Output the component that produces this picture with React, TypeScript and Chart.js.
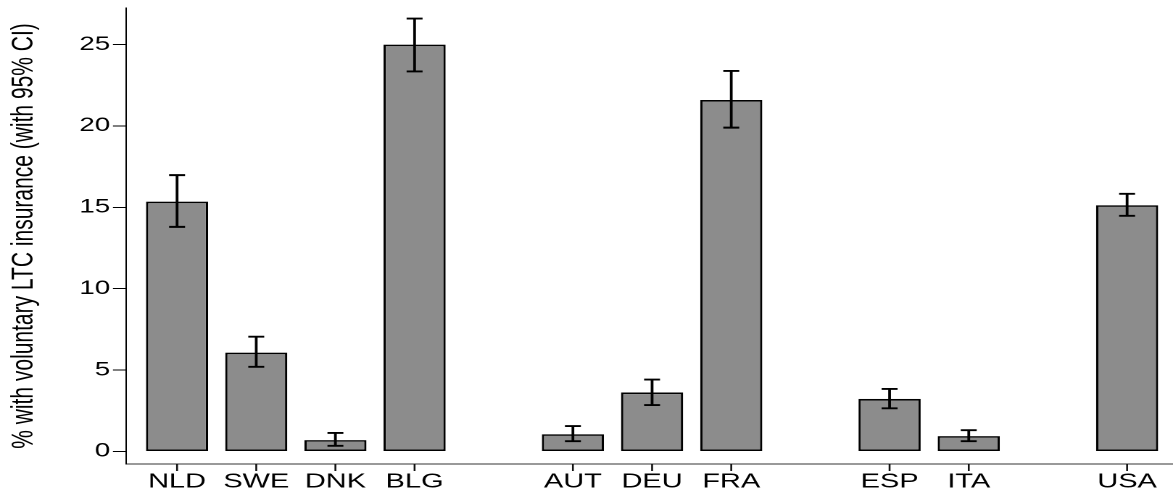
import React, { useEffect, useRef } from "react";
import { Chart, registerables } from "chart.js";

Chart.register(...registerables);

// ---- data ----
const groups: string[][] = [
  ["NLD", "SWE", "DNK", "BLG"],
  ["AUT", "DEU", "FRA"],
  ["ESP", "ITA"],
  ["USA"],
];
const countries: string[] = ["NLD", "SWE", "DNK", "BLG", "AUT", "DEU", "FRA", "ESP", "ITA", "USA"];
const shares: number[] = [15.35, 6.07, 0.7, 25.0, 1.06, 3.62, 21.6, 3.23, 0.94, 15.13];
const ciLow: number[] = [13.8, 5.2, 0.35, 23.35, 0.63, 2.85, 19.9, 2.65, 0.63, 14.48];
const ciHigh: number[] = [16.98, 7.05, 1.14, 26.6, 1.56, 4.42, 23.38, 3.84, 1.31, 15.83];
const yTicks: number[] = [0, 5, 10, 15, 20, 25];
const yTitle = "% with voluntary LTC insurance (with 95% CI)";

// slot index of each country: one empty slot between groups
const slotGap = 1;
const slots: number[] = (() => {
  const out: number[] = [];
  let s = 0;
  groups.forEach((g) => {
    g.forEach(() => out.push(s++));
    s += slotGap;
  });
  return out;
})();

// ---- layout / style ----
const PAGE_W = 1173;
const PAGE_H = 493;
const STRETCH = 1.45; // horizontal stretch of the original rendering
const CANVAS_W = Math.round(PAGE_W / STRETCH);
const FONT = "'Liberation Sans', Arial, Helvetica, sans-serif";
const X_TICK_LEN = 7;

const errorBarPlugin = {
  id: "errorBars",
  afterDatasetsDraw(chart: any) {
    const { ctx, scales } = chart;
    const x = scales.x;
    const y = scales.y;
    const cap = 5.5;
    ctx.save();
    ctx.strokeStyle = "#000";
    ctx.lineWidth = 1.9;
    ctx.lineCap = "butt";
    slots.forEach((s, i) => {
      const px = x.getPixelForValue(s);
      const yl = y.getPixelForValue(ciLow[i]);
      const yh = y.getPixelForValue(ciHigh[i]);
      ctx.beginPath();
      ctx.moveTo(px, yl);
      ctx.lineTo(px, yh);
      ctx.moveTo(px - cap, yl);
      ctx.lineTo(px + cap, yl);
      ctx.moveTo(px - cap, yh);
      ctx.lineTo(px + cap, yh);
      ctx.stroke();
    });
    ctx.restore();
  },
  afterDraw(chart: any) {
    // tick marks under each category label
    const { ctx, scales } = chart;
    const x = scales.x;
    ctx.save();
    ctx.strokeStyle = "#111";
    ctx.lineWidth = 1.3;
    slots.forEach((s) => {
      const px = x.getPixelForValue(s);
      ctx.beginPath();
      ctx.moveTo(px, x.top);
      ctx.lineTo(px, x.top + X_TICK_LEN);
      ctx.stroke();
    });
    ctx.restore();
  },
};

export default function App() {
  const ref = useRef<HTMLCanvasElement | null>(null);

  useEffect(() => {
    if (!ref.current) return;
    const chart = new Chart(ref.current, {
      type: "bar",
      data: {
        datasets: [
          {
            data: slots.map((s, i) => ({ x: s, y: shares[i] })),
            backgroundColor: "#8c8c8c",
            borderColor: "#000",
            borderWidth: 1.6,
            borderSkipped: false,
            barPercentage: 0.785,
            categoryPercentage: 1,
          },
        ],
      },
      options: {
        animation: false,
        responsive: false,
        devicePixelRatio: 2,
        layout: { padding: { top: 8, left: 0, right: 0, bottom: 0 } },
        plugins: {
          legend: { display: false },
          tooltip: { enabled: false },
          title: { display: false },
        },
        scales: {
          x: {
            type: "linear",
            offset: false,
            min: -0.645,
            max: 12.58,
            afterBuildTicks: (scale: any) => {
              scale.ticks = slots.map((s) => ({ value: s }));
            },
            afterFit: (scale: any) => {
              scale.height = 29;
              scale.paddingLeft = 0;
              scale.paddingRight = 0;
            },
            ticks: {
              autoSkip: false,
              maxRotation: 0,
              minRotation: 0,
              padding: 0,
              color: "#000",
              font: { family: FONT, size: 20 },
              callback: (v: any) => {
                const i = slots.indexOf(Number(v));
                return i >= 0 ? countries[i] : "";
              },
            },
            grid: {
              display: false,
              drawOnChartArea: false,
              drawTicks: true,
              tickLength: 6,
            },
            border: { display: true, color: "#333", width: 1 },
          },
          y: {
            type: "linear",
            min: -0.77,
            max: 27.25,
            afterBuildTicks: (scale: any) => {
              scale.ticks = yTicks.map((v) => ({ value: v }));
            },
            afterFit: (scale: any) => {
              scale.width = 86.9;
              scale.paddingTop = 0;
              scale.paddingBottom = 0;
            },
            ticks: {
              padding: 2,
              color: "#000",
              font: { family: FONT, size: 19 },
            },
            grid: {
              display: true,
              drawOnChartArea: false,
              drawTicks: true,
              tickLength: 9,
              color: "#000",
              lineWidth: 1,
            },
            border: { display: true, color: "#000", width: 1 },
            title: {
              display: true,
              text: yTitle,
              color: "#000",
              font: { family: FONT, size: 21 },
              padding: { top: 4, bottom: 0 },
            },
          },
        },
      },
      plugins: [errorBarPlugin],
    });
    return () => chart.destroy();
  }, []);

  return (
    <div
      style={{
        position: "fixed",
        left: 0,
        top: 0,
        width: PAGE_W + "px",
        height: PAGE_H + "px",
        background: "#fff",
      }}
    >
      <canvas
        ref={ref}
        width={CANVAS_W}
        height={PAGE_H}
        style={{ width: PAGE_W + "px", height: PAGE_H + "px", display: "block" }}
      />
    </div>
  );
}
